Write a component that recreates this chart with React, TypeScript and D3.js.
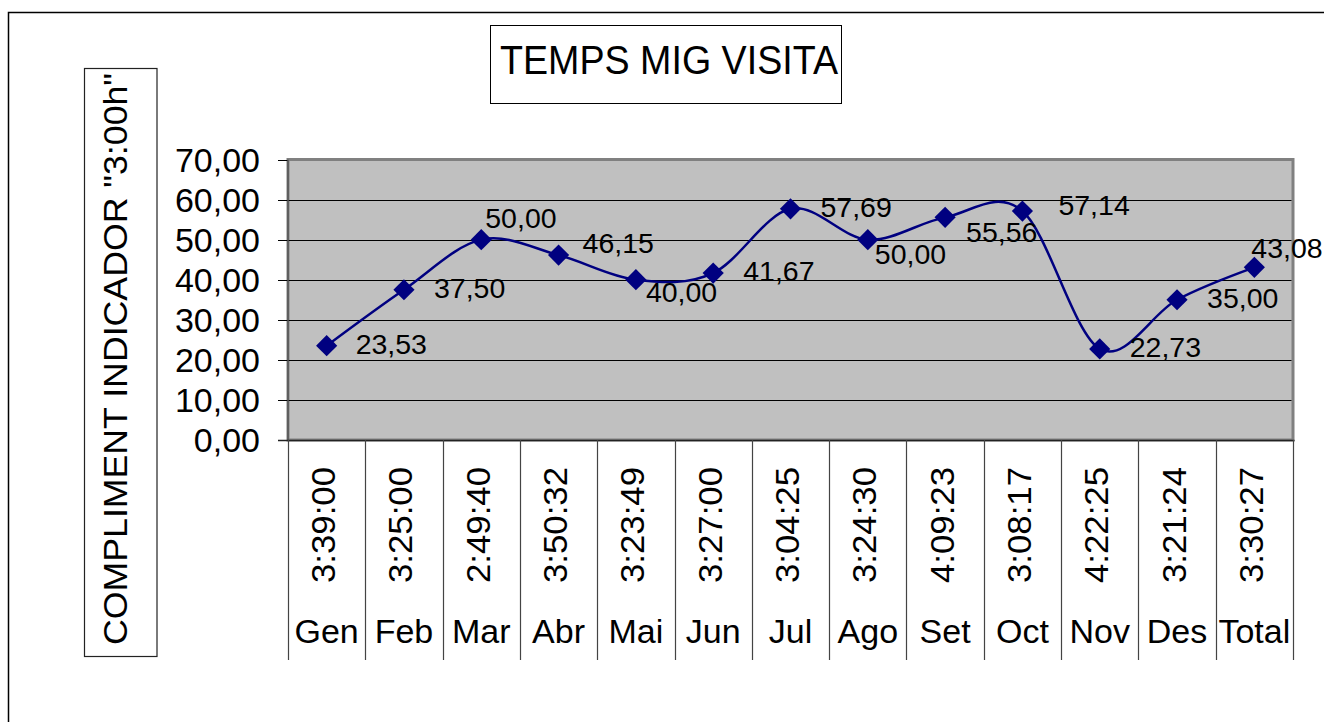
import React from "react";
import * as d3 from "d3";

const categories = ["Gen", "Feb", "Mar", "Abr", "Mai", "Jun", "Jul", "Ago", "Set", "Oct", "Nov", "Des", "Total"];
const values = [23.53, 37.5, 50.0, 46.15, 40.0, 41.67, 57.69, 50.0, 55.56, 57.14, 22.73, 35.0, 43.08];
const times = ["3:39:00", "3:25:00", "2:49:40", "3:50:32", "3:23:49", "3:27:00", "3:04:25", "3:24:30", "4:09:23", "3:08:17", "4:22:25", "3:21:24", "3:30:27"];
const yTicks = [0, 10, 20, 30, 40, 50, 60, 70];
const title = "TEMPS MIG VISITA";
const yTitle = "COMPLIMENT INDICADOR \"3:00h\"";

// layout: data-label offsets (start x, vertical centre) relative to each marker
const labelOffsets: [number, number][] = [
  [29, -2], [30, -2], [4, -22], [24, -12], [10, 12], [30, -2], [30, -2],
  [7, 14], [21, 15], [36, -6], [30, -2], [30, -2], [-3, -19],
];

const fmt = (v: number) => v.toFixed(2).replace(".", ",");

export default function App() {
  const left = 288, right = 1293, top = 159.5, bottom = 440, tableBottom = 660;
  const x = d3.scaleBand<string>().domain(categories).range([left, right]).padding(0);
  const y = d3.scaleLinear().domain([0, 70]).range([bottom, top]);
  const cx = (c: string) => (x(c) as number) + x.bandwidth() / 2;

  const line = d3
    .line<number>()
    .x((_, i) => cx(categories[i]))
    .y((v) => y(v))
    .curve(d3.curveCardinal.tension(0));

  const marker = d3.symbol().type(d3.symbolSquare).size(225)();
  const font = "'Liberation Sans', Arial, sans-serif";

  const bounds = categories.map((c) => x(c) as number).concat([right]);

  return (
    <svg
      width={1324}
      height={722}
      style={{ position: "absolute", left: 0, top: 0, background: "#fff" }}
      fontFamily={font}
    >
      {/* outer chart border */}
      <rect x={8.5} y={12.5} width={1330} height={720} fill="#fff" stroke="#000" strokeWidth={1.5} />

      {/* title box */}
      <rect x={490.5} y={25.5} width={351} height={78} fill="#fff" stroke="#000" strokeWidth={1} />
      <text x={669} y={74} textAnchor="middle" fontSize={40} textLength={338} lengthAdjust="spacingAndGlyphs">
        {title}
      </text>

      {/* y title box */}
      <rect x={84.5} y={68.5} width={72.5} height={588} fill="#fff" stroke="#222" strokeWidth={1.2} />
      <text
        transform={`translate(127,359) rotate(-90)`}
        textAnchor="middle"
        fontSize={34}
        textLength={572}
        lengthAdjust="spacingAndGlyphs"
      >
        {yTitle}
      </text>

      {/* plot area */}
      <rect x={left} y={top} width={right - left} height={bottom - top} fill="#C0C0C0" stroke="#808080" strokeWidth={3} />
      {yTicks.slice(1, -1).map((t) => (
        <line key={t} x1={left} x2={right - 1.5} y1={Math.round(y(t)) + 0.5} y2={Math.round(y(t)) + 0.5} stroke="#000" strokeWidth={1} />
      ))}

      {/* y axis ticks and labels */}
      {yTicks.map((t) => (
        <g key={t}>
          <line x1={278} x2={left} y1={Math.round(y(t)) + 0.5} y2={Math.round(y(t)) + 0.5} stroke="#000" strokeWidth={1} />
          <text x={260} y={y(t) + 12} textAnchor="end" fontSize={34}>
            {fmt(t)}
          </text>
        </g>
      ))}
      <line x1={left} x2={left} y1={top} y2={bottom} stroke="#555" strokeWidth={1.5} />
      <line x1={278} x2={right + 1.5} y1={bottom + 0.5} y2={bottom + 0.5} stroke="#222" strokeWidth={1.5} />

      {/* data table below axis */}
      {bounds.map((b, i) => (
        <line key={i} x1={Math.round(b) + 0.5} x2={Math.round(b) + 0.5} y1={bottom} y2={tableBottom} stroke="#444" strokeWidth={1.2} />
      ))}
      {categories.map((c, i) => (
        <g key={c}>
          <text
            transform={`translate(${cx(c) + 8.5},525) rotate(-90)`}
            textAnchor="middle"
            fontSize={33}
            textLength={116}
            lengthAdjust="spacingAndGlyphs"
          >
            {times[i]}
          </text>
          <text x={cx(c)} y={643} textAnchor="middle" fontSize={34}>
            {c}
          </text>
        </g>
      ))}

      {/* series */}
      <path d={line(values) || ""} fill="none" stroke="#000080" strokeWidth={2.5} />
      {values.map((v, i) => (
        <path key={i} d={marker || ""} transform={`translate(${cx(categories[i])},${y(v)}) rotate(45)`} fill="#000080" />
      ))}
      {values.map((v, i) => (
        <text
          key={i}
          x={cx(categories[i]) + labelOffsets[i][0]}
          y={y(v) + labelOffsets[i][1] + 10}
          fontSize={28.5}
        >
          {fmt(v)}
        </text>
      ))}
    </svg>
  );
}
